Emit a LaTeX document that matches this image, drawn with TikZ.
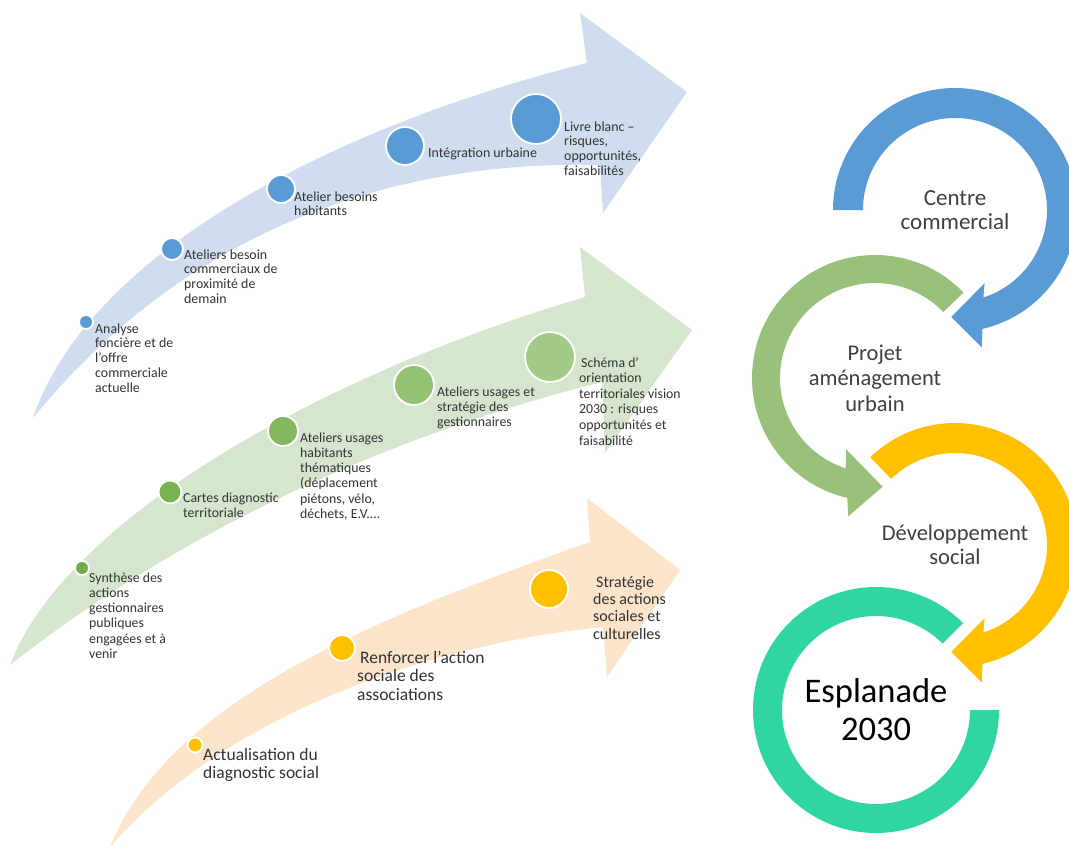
\documentclass[tikz,border=0pt]{standalone}
\usepackage{fontspec}
\setmainfont{Carlito}
\usetikzlibrary{calc}
\definecolor{blueL}{HTML}{D0DDEF}
\definecolor{greenL}{HTML}{D6E5CD}
\definecolor{orangeL}{HTML}{FCE4CA}
\definecolor{blueD}{HTML}{5B9BD5}
\definecolor{greenD1}{HTML}{70AD47}
\definecolor{greenD2}{HTML}{79B253}
\definecolor{greenD3}{HTML}{83B85F}
\definecolor{greenD4}{HTML}{93C273}
\definecolor{greenD5}{HTML}{A3CB88}
\definecolor{goldD}{HTML}{FFC000}
\definecolor{ringB}{HTML}{5B9BD5}
\definecolor{ringG}{HTML}{99C17B}
\definecolor{ringO}{HTML}{FFC000}
\definecolor{ringT}{HTML}{2FD6A1}
\definecolor{txtL}{HTML}{333333}
\definecolor{txtR}{HTML}{404040}
\begin{document}
\begin{tikzpicture}[x=1pt,y=-1pt,
  dot/.style={circle,draw=white,line width=1.8pt,inner sep=0pt,outer sep=0pt},
  stxt/.style={anchor=north west,inner sep=0pt,align=left,text=txtL,font=\fontsize{13.9}{14.8}\selectfont},
  gtxt/.style={anchor=north west,inner sep=0pt,align=left,text=txtL,font=\fontsize{13.8}{15.2}\selectfont},
  btxt/.style={anchor=north west,inner sep=0pt,align=left,text=txtL,font=\fontsize{17.5}{18.5}\selectfont},
  mtxt/.style={anchor=north west,inner sep=0pt,align=left,text=txtL,font=\fontsize{16}{17.3}\selectfont},
  rlbl/.style={inner sep=0pt,align=center,text=txtR,font=\fontsize{23}{24}\selectfont}]
\useasboundingbox (0,0) rectangle (1069,847);
\fill[white] (0,0) rectangle (1069,847);

% ---- curved arrows on the left
\fill[blueL] (33,418) .. controls (90,250) and (340,125) .. (587,63) -- (580,13) -- (687,92) -- (603,213) -- (600,165) .. controls (400,160) and (190,225) .. (33,418) -- cycle;
\fill[greenL] (10,665) .. controls (65,520) and (320,375) .. (585,297) -- (580,247) -- (692,330) -- (605,453) -- (602,382) .. controls (450,420) and (220,500) .. (10,665) -- cycle;
\fill[orangeL] (110,847) .. controls (170,700) and (370,620) .. (590,542) -- (587,498) -- (680,570) -- (607,677) -- (603,627) .. controls (420,645) and (220,720) .. (110,847) -- cycle;

% ---- blue steps
\node[dot,fill=blueD,minimum size=14pt] (b1) at (86,322) {};
\node[dot,fill=blueD,minimum size=22pt] (b2) at (172,249) {};
\node[dot,fill=blueD,minimum size=28pt] (b3) at (281,189) {};
\node[dot,fill=blueD,minimum size=38pt] (b4) at (405,146) {};
\node[dot,fill=blueD,minimum size=50pt] (b5) at (536,119) {};
\node[stxt] (tb1) at (95,322.6) {\strut Analyse\\foncière et de\\l’offre\\commerciale\\actuelle};
\node[stxt] (tb2) at (184,248.6) {\strut Ateliers besoin\\commerciaux de\\proximité de\\demain};
\node[stxt] (tb3) at (294,190.6) {\strut Atelier besoins\\habitants};
\node[stxt] (tb4) at (428,146.6) {\strut Intégration urbaine};
\node[stxt] (tb5) at (564,120.6) {\strut Livre blanc –\\risques,\\opportunités,\\faisabilités};

% ---- green steps
\node[dot,fill=greenD1,minimum size=14pt] (g1) at (82,568) {};
\node[dot,fill=greenD2,minimum size=23pt] (g2) at (170,492) {};
\node[dot,fill=greenD3,minimum size=30pt] (g3) at (283,431) {};
\node[dot,fill=greenD4,minimum size=40pt] (g4) at (414,385) {};
\node[dot,fill=greenD5,minimum size=50pt] (g5) at (550,357) {};
\node[gtxt] (tg1) at (89,571.5) {\strut Synthèse des\\actions\\gestionnaires\\publiques\\engagées et à\\venir};
\node[gtxt] (tg2) at (183,491.5) {\strut Cartes diagnostic\\territoriale};
\node[gtxt] (tg3) at (300,431.5) {\strut Ateliers usages\\habitants\\thématiques\\(déplacement\\piétons, vélo,\\déchets, E.V....};
\node[gtxt] (tg4) at (437,385.5) {\strut Ateliers usages et\\stratégie des\\gestionnaires};
\node[gtxt,font=\fontsize{13.8}{15.6}\selectfont] (tg5) at (579,356) {\strut\hspace*{2pt}Schéma d’\\orientation\\territoriales vision\\2030 : risques\\opportunités et\\faisabilité};

% ---- orange steps
\node[dot,fill=goldD,minimum size=15pt] (o1) at (195,745) {};
\node[dot,fill=goldD,minimum size=26pt] (o2) at (342,648) {};
\node[dot,fill=goldD,minimum size=38pt] (o3) at (549,589) {};
\node[btxt] (to1) at (203,747) {\strut Actualisation du\\diagnostic social};
\node[btxt] (to2) at (357,650) {\strut\hspace*{3pt}Renforcer l’action\\sociale des\\associations};
\node[mtxt] (to3) at (593,575) {\strut\hspace*{3pt}Stratégie\\des actions\\sociales et\\culturelles};

% ---- cycle on the right
\coordinate (cB) at (955,210);
\coordinate (cG) at (875,378);
\coordinate (cO) at (955,545);
\coordinate (cE) at (876,710);
\fill[ringB] ($(cB)+(180:122)$) arc[start angle=180,end angle=437,radius=122] -- ($(cB)+(439:140)$) -- ($(cB)+(452:107)$) -- ($(cB)+(428:79)$) -- ($(cB)+(432:92)$) arc[start angle=432,end angle=180,radius=92] -- cycle;
\fill[ringG] ($(cG)+(-44:123)$) arc[start angle=-44,end angle=-257,radius=123] -- ($(cG)+(-259:141)$) -- ($(cG)+(-274:109)$) -- ($(cG)+(-248:77)$) -- ($(cG)+(-252:95)$) arc[start angle=-252,end angle=-44,radius=95] -- cycle;
\fill[ringO] ($(cO)+(226:122)$) arc[start angle=226,end angle=437,radius=122] -- ($(cO)+(439:140)$) -- ($(cO)+(452:107)$) -- ($(cO)+(428:79)$) -- ($(cO)+(432:92)$) arc[start angle=432,end angle=226,radius=92] -- cycle;
\fill[ringT] ($(cE)+(-45:123)$) arc[start angle=-45,end angle=-360,radius=123] -- ($(cE)+(0:94)$) arc[start angle=-360,end angle=-45,radius=94] -- cycle;

\node[rlbl] (lB) at (cB) {Centre\\commercial};
\node[rlbl,font=\fontsize{22.5}{25.5}\selectfont] (lG) at (cG) {Projet\\aménagement\\urbain};
\node[rlbl,font=\fontsize{22.5}{24}\selectfont] (lO) at (cO) {Développement\\social};
\node[rlbl,text=black,font=\fontsize{34.5}{38}\selectfont] (lE) at (cE) {Esplanade\\2030};
\end{tikzpicture}
\end{document}
